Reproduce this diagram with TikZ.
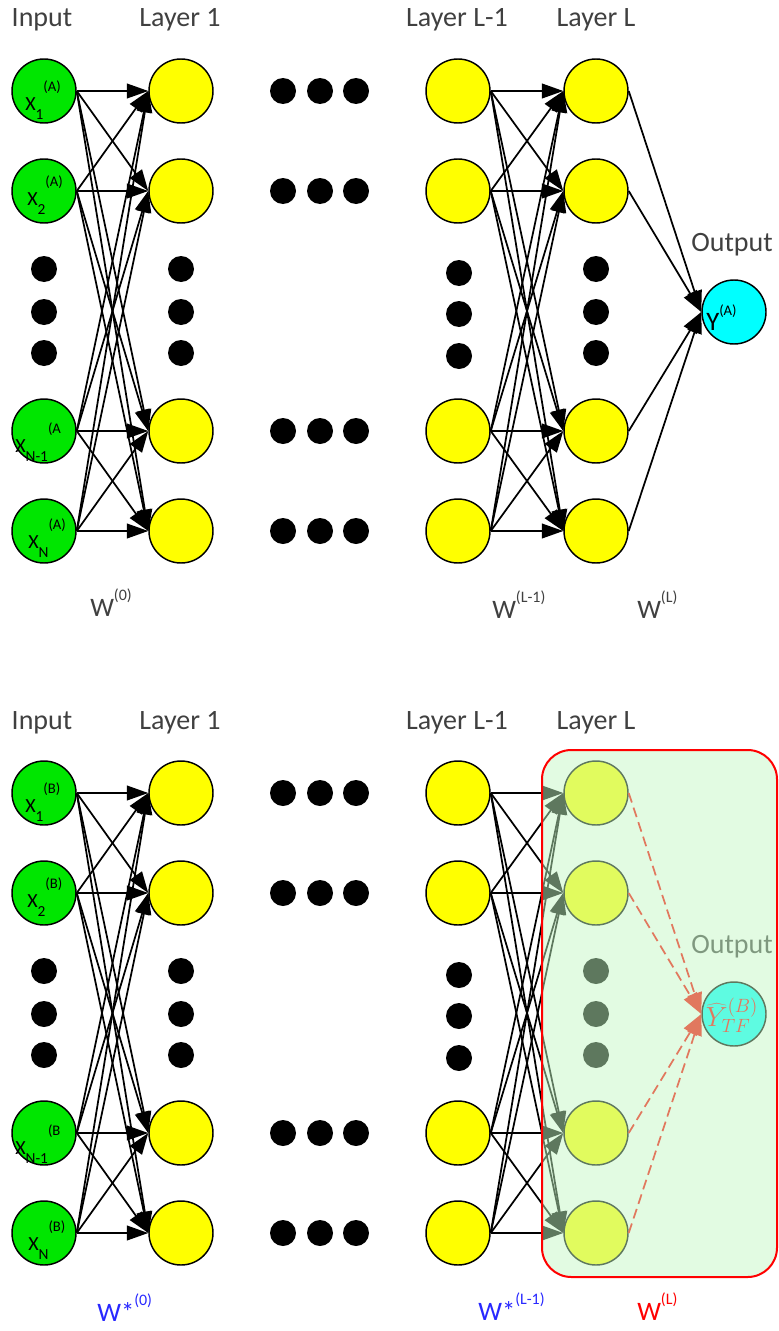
\documentclass[tikz,border=0pt]{standalone}
\usepackage{fontspec}
\setmainfont{Carlito}
\usetikzlibrary{arrows.meta}

\definecolor{ingreen}{RGB}{0,230,0}
\definecolor{hidyellow}{RGB}{255,255,0}
\definecolor{outcyan}{RGB}{0,255,255}
\definecolor{txtgray}{RGB}{64,64,64}
\definecolor{wblue}{RGB}{40,40,255}
\definecolor{wred}{RGB}{255,0,0}
\definecolor{veil}{RGB}{195,247,195}

% input label X_sub^(sup), set one after the other
\newcommand{\xlab}[2]{X\raisebox{-7pt}{\fontsize{11.5}{13}\selectfont#1}\raisebox{14pt}{\fontsize{11}{13}\selectfont#2}}
\newcommand{\wsup}[1]{\raisebox{12pt}{\fontsize{12}{14}\selectfont#1}}

\begin{document}
\begin{tikzpicture}[x=0.75pt,y=-0.75pt,
    neuron/.style={circle,draw,line width=1.1pt,minimum size=48pt,inner sep=0pt},
    innode/.style={neuron,fill=ingreen},
    hidnode/.style={neuron,fill=hidyellow},
    outnode/.style={neuron,fill=outcyan},
    bigdot/.style={circle,fill=black,minimum size=19.5pt,inner sep=0pt},
    conn/.style={-{Triangle[length=16pt,width=11pt]},line width=1.3pt},
    title/.style={font=\fontsize{21}{25}\selectfont,text=txtgray,anchor=base,inner sep=0pt},
    xtxt/.style={font=\fontsize{15}{18}\selectfont,anchor=base west,inner sep=0pt},
    wtxt/.style={font=\fontsize{20}{24}\selectfont,text=txtgray,anchor=base west,inner sep=0pt}]
\useasboundingbox (0,0) rectangle (778,1331);

% neurons, dots and weights of both nets
\foreach \p/\dy/\s in {a/0/A,b/702/B}{
  \foreach \i/\y in {1/91,2/191,3/431,4/531}{
    \node[innode] (\p-in\i) at (44,\y+\dy) {};
    \node[hidnode] (\p-h\i) at (181,\y+\dy) {};
    \node[hidnode] (\p-m\i) at (458,\y+\dy) {};
    \node[hidnode] (\p-l\i) at (596,\y+\dy) {};
    \foreach \x in {283,320,356}
      \node[bigdot] (\p-d\i-\x) at (\x,\y+\dy) {};
  }
  \foreach \k/\y in {1/269,2/312,3/353}{
    \node[bigdot] (\p-vin\k) at (44,\y+\dy) {};
    \node[bigdot] (\p-vh\k) at (181,\y+\dy) {};
    \node[bigdot] (\p-vl\k) at (596,\y+\dy) {};
  }
  \foreach \k/\y in {1/273,2/314,3/356}
    \node[bigdot] (\p-vm\k) at (459,\y+\dy) {};
  \node[outnode] (\p-out) at (734,312+\dy) {};
  \foreach \i in {1,...,4}
    \foreach \j in {1,...,4}{
      \draw[conn] (\p-in\i.east) -- (\p-h\j.west);
      \draw[conn] (\p-m\i.east) -- (\p-l\j.west);
    }
  % titles
  \node[title] (\p-tin) at (42,27+\dy) {Input};
  \node[title] (\p-tl1) at (180,27+\dy) {Layer 1};
  \node[title] (\p-tlm) at (457,27+\dy) {Layer L-1};
  \node[title] (\p-tll) at (596,27+\dy) {Layer L};
  \node[title] (\p-tout) at (732,251+\dy) {Output};
  % input labels
  \node[xtxt] (\p-x1) at (25,110+\dy) {\xlab{1}{(\s)}};
  \node[xtxt] (\p-x2) at (27,205+\dy) {\xlab{2}{(\s)}};
  \node[xtxt] (\p-x3) at (15,452+\dy) {\xlab{N-1}{(\s}};
  \node[xtxt] (\p-x4) at (28,548+\dy) {\xlab{N}{(\s)}};
}

% output of net A
\foreach \j in {1,...,4}
  \draw[conn] (a-l\j.east) -- (a-out.west);
\node[font=\fontsize{20}{24}\selectfont,anchor=base west,inner sep=0pt] (a-y) at (706,330)
  {Y\raisebox{11pt}{\fontsize{11}{13}\selectfont(A)}};

% output of net B
\foreach \j in {1,...,4}
  \draw[conn,wred,dash pattern=on 7.5pt off 4pt] (b-l\j.east) -- (b-out.west);
\node[text=wred,font=\fontsize{20}{23}\selectfont,inner sep=0pt] (b-y) at (732,1015) {$\widehat{Y}^{(B)}_{TF}$};

% transferred part
\draw[wred,line width=1.5pt,fill=veil,fill opacity=0.486,rounded corners=22pt]
  (542,750) rectangle (777,1277);

% weights
\node[wtxt] (a-w0) at (90,616) {W\wsup{(0)}};
\node[wtxt] (a-wm) at (492,618) {W\wsup{(L-1)}};
\node[wtxt] (a-wl) at (637,618) {W\wsup{(L)}};
\node[wtxt,text=wblue] (b-w0) at (97,1321) {W*\wsup{(0)}};
\node[wtxt,text=wblue] (b-wm) at (478,1320) {W*\wsup{(L-1)}};
\node[wtxt,text=wred] (b-wl) at (637,1320) {W\wsup{(L)}};
\end{tikzpicture}
\end{document}
